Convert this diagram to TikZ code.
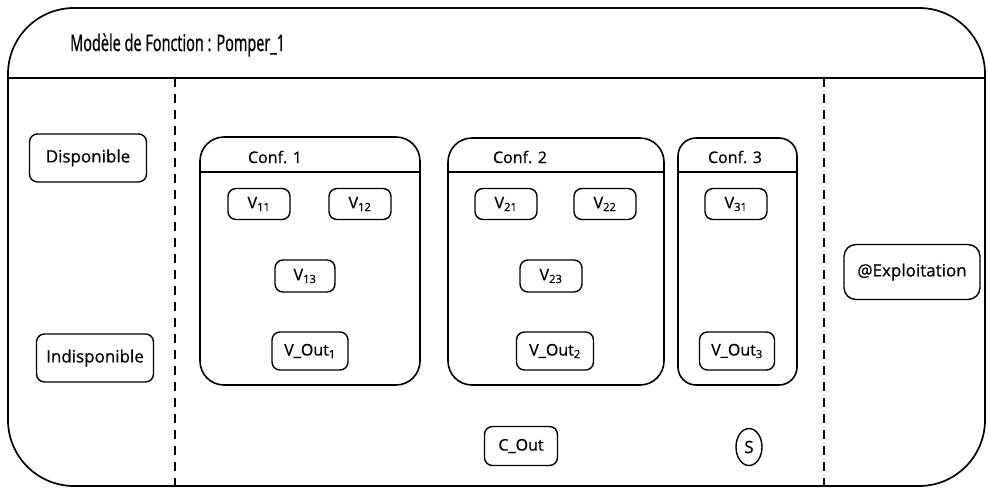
\documentclass[tikz,border=0pt]{standalone}
\usepackage{fontspec}
\setmainfont{Open Sans}[FakeBold=0.6]
\newfontfamily\titlefont{Open Sans}[FakeStretch=0.63, FakeBold=0.7]
\usetikzlibrary{shapes.geometric}
\tikzset{
  box/.style={draw, line width=1.4pt, rounded corners=8pt, inner sep=0pt, font=\fontsize{16}{18}\selectfont},
  conf/.style={draw, line width=1.6pt, rounded corners=24pt, inner sep=0pt},
  frame/.style={line width=1.7pt},
  sep/.style={line width=1.6pt, dash pattern=on 9pt off 7pt},
  lbl/.style={inner sep=0pt, font=\fontsize{16}{18}\selectfont},
}
\begin{document}
\begin{tikzpicture}[x=1pt,y=-1pt]
\useasboundingbox (0,0) rectangle (988,488);
% outer frame
\draw[frame, rounded corners=66pt] (8,8) rectangle (985,486);
\coordinate (hl) at (8,78);
\coordinate (hr) at (985,78);
\draw[frame] (hl) -- (hr);
\node[anchor=west, inner sep=0pt, font=\titlefont\fontsize{23}{26}\selectfont] (title) at (70,45) {Modèle de Fonction : Pomper\_1};
% separators
\coordinate (s1t) at (175,78); \coordinate (s1b) at (175,486);
\coordinate (s2t) at (824,78); \coordinate (s2b) at (824,486);
\draw[sep] (s1t) -- (s1b);
\draw[sep] (s2t) -- (s2b);
% left states
\node[box, minimum width=117pt, minimum height=48pt, font=\fontsize{17}{19}\selectfont] (dispo) at (88,158) {Disponible};
\node[box, minimum width=117pt, minimum height=48pt, font=\fontsize{17}{19}\selectfont] (indispo) at (95,358) {Indisponible};
% Conf 1
\node[conf, minimum width=220pt, minimum height=248pt] (c1) at (310,261) {};
\draw[frame] (c1.west |- 0,172) -- (c1.east |- 0,172);
\node[lbl] (c1t) at (275,157) {Conf. 1};
\node[box, minimum width=62pt, minimum height=31pt] (v11) at (259,204) {V\textsubscript{11}};
\node[box, minimum width=62pt, minimum height=31pt] (v12) at (360,204) {V\textsubscript{12}};
\node[box, minimum width=60pt, minimum height=32pt] (v13) at (305,276) {V\textsubscript{13}};
\node[box, minimum width=76pt, minimum height=38pt] (vo1) at (310,351) {V\_Out\textsubscript{1}};
% Conf 2
\node[conf, minimum width=216pt, minimum height=247pt] (c2) at (556,261.5) {};
\draw[frame] (c2.west |- 0,172) -- (c2.east |- 0,172);
\node[lbl] (c2t) at (520,157) {Conf. 2};
\node[box, minimum width=62pt, minimum height=31pt] (v21) at (506,204) {V\textsubscript{21}};
\node[box, minimum width=62pt, minimum height=31pt] (v22) at (605,204) {V\textsubscript{22}};
\node[box, minimum width=62pt, minimum height=32pt] (v23) at (551,276) {V\textsubscript{23}};
\node[box, minimum width=77pt, minimum height=38pt] (vo2) at (555,351) {V\_Out\textsubscript{2}};
% Conf 3
\node[conf, rounded corners=18pt, minimum width=119pt, minimum height=247pt] (c3) at (737.5,261.5) {};
\draw[frame] (c3.west |- 0,172) -- (c3.east |- 0,172);
\node[lbl] (c3t) at (735,157) {Conf. 3};
\node[box, minimum width=62pt, minimum height=31pt] (v31) at (736,204) {V\textsubscript{31}};
\node[box, minimum width=75pt, minimum height=38pt] (vo3) at (737,351) {V\_Out\textsubscript{3}};
% bottom
\node[box, minimum width=73pt, minimum height=39pt] (cout) at (521,446) {C\_Out};
\node[draw, ellipse, line width=1.4pt, inner sep=0pt, minimum width=26pt, minimum height=37pt, font=\fontsize{17}{19}\selectfont] (s) at (749,447) {S};
% right
\node[box, minimum width=136pt, minimum height=55pt, rounded corners=12pt, font=\fontsize{17}{19}\selectfont] (expl) at (912,272) {@Exploitation};
\end{tikzpicture}
\end{document}
